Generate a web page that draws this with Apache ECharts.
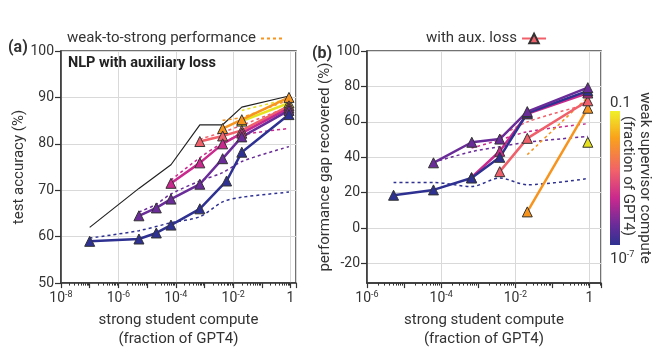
<!DOCTYPE html>
<html>
<head>
<meta charset="utf-8">
<script src="https://cdn.jsdelivr.net/npm/echarts@6/dist/echarts.min.js"></script>
<style>
html, body { margin: 0; padding: 0; background: #fff; }
#chart { width: 664px; height: 354px; }
</style>
</head>
<body>
<div id="chart"></div>
<script>
// (a) test accuracy (%) vs strong student compute, one line per weak supervisor
const accNavy = [[1e-7, 59], [5.2e-6, 59.5], [2.1e-5, 60.8], [6.8e-5, 62.5], [6.9e-4, 66], [5.9e-3, 72], [2.0e-2, 78.2], [0.88, 86.3]]
const accPurple = [[5.2e-6, 64.5], [2.1e-5, 66.2], [6.8e-5, 68.1], [6.9e-4, 71.3], [4.3e-3, 76.8], [2.0e-2, 81.5], [0.88, 87.2]]
const accMagenta = [[6.8e-5, 71.5], [6.9e-4, 75.9], [4.3e-3, 80], [2.0e-2, 82.3], [0.88, 87.7]]
const accSalmon = [[6.9e-4, 80.5], [4.3e-3, 81.7], [2.0e-2, 82.9], [0.88, 88.2]]
const accOrange = [[4.3e-3, 83.3], [2.0e-2, 85.2], [0.88, 90]]
const accYellow = [[2.0e-2, 84.9], [0.88, 88.8]]
const accCeiling = [[1e-7, 62], [5.2e-6, 70.4], [6.8e-5, 75.5], [6.9e-4, 84.1], [4.3e-3, 84.1], [2.0e-2, 87.9], [0.88, 90.3]]

// (a) weak-to-strong performance without aux loss (dashed)
const w2sNavy = [[1e-7, 59.7], [5.2e-6, 61.3], [6.8e-5, 63], [6.9e-4, 64.3], [4.3e-3, 67.5], [2.0e-2, 68.5], [0.88, 69.6]]
const w2sPurple = [[5.2e-6, 65.3], [2.1e-5, 67], [6.8e-5, 69.2], [6.9e-4, 72], [4.3e-3, 73.8], [2.0e-2, 76.2], [0.88, 79.4]]
const w2sMagenta = [[6.8e-5, 72.2], [6.9e-4, 77], [4.3e-3, 80.2], [2.0e-2, 81.9], [0.88, 83.3]]
const w2sSalmon = [[6.9e-4, 81], [4.3e-3, 82.5], [2.0e-2, 84], [0.88, 88]]
const w2sOrange = [[4.3e-3, 85.1], [2.0e-2, 85.7], [0.88, 89.5]]
const w2sYellow = [[2.0e-2, 87.2], [0.88, 89.7]]

// (b) performance gap recovered (%)
const pgrNavy = [[5.2e-6, 18.6], [6.2e-5, 21.6], [6.6e-4, 28.3], [3.8e-3, 40], [2.1e-2, 65], [0.9, 77.5]]
const pgrPurple = [[6.2e-5, 36.9], [6.7e-4, 48.5], [3.8e-3, 50.3], [2.1e-2, 65.8], [0.9, 79.3]]
const pgrMagenta = [[6.6e-4, 28.6], [3.8e-3, 43.4], [2.1e-2, 64.5], [0.9, 76.3]]
const pgrSalmon = [[3.8e-3, 31.9], [2.1e-2, 50.7], [0.9, 71.9]]
const pgrOrange = [[2.1e-2, 9.2], [0.9, 67.7]]
const pgrYellow = [[0.9, 48.5]]

const pgrW2sNavy = [[5.2e-6, 25.8], [6.2e-5, 25.8], [6.6e-4, 23.5], [3.8e-3, 28.3], [2.1e-2, 24.5], [0.9, 28]]
const pgrW2sPurple = [[6.2e-5, 37.2], [6.7e-4, 43.2], [3.8e-3, 46], [2.1e-2, 48.5], [0.9, 51.8]]
const pgrW2sMagenta = [[6.6e-4, 45.2], [3.8e-3, 49.8], [2.1e-2, 54.4], [0.9, 59]]
const pgrW2sSalmon = [[3.8e-3, 51.7], [2.1e-2, 60], [0.9, 70]]
const pgrW2sOrange = [[2.1e-2, 41.5], [0.9, 74]]

// axis ticks
const accTicks = [50, 60, 70, 80, 90, 100]
const pgrTicks = [-20, 0, 20, 40, 60, 80, 100]

const C = {
  navy: '#2e3191',
  purple: '#6a2c99',
  magenta: '#c9298d',
  salmon: '#f0606b',
  orange: '#f7941e',
  yellow: '#e6e21e',
  text: '#333'
}
const FONT = 'Roboto'

// only whole, even decades get a label
function powLabel (v) {
  const e = Math.log10(v)
  const r = Math.round(e)
  if (Math.abs(e - r) > 1e-6 || r % 2 !== 0) return ''
  return r === 0 ? '{b|1}' : '{b|10}{s|' + r + '}'
}

const labelRich = {
  b: { fontSize: 14, color: C.text, fontFamily: FONT, lineHeight: 16 },
  s: { fontSize: 9, color: C.text, fontFamily: FONT, lineHeight: 16, verticalAlign: 'top', padding: [0, 0, 7, 0] }
}

const gridA = { left: 61, top: 51, width: 235, height: 237 }
const gridB = { left: 367, top: 51, width: 234, height: 237 }
const xMaxA = Math.pow(10, 0.19)
const xMaxB = Math.pow(10, 0.31)

function mainX (gridIndex, min, max) {
  return {
    type: 'log',
    logBase: 10,
    gridIndex,
    min,
    max,
    interval: 1,
    position: 'bottom',
    name: 'strong student compute\n(fraction of GPT4)',
    nameLocation: 'middle',
    nameGap: 22,
    nameTextStyle: { fontSize: 15, lineHeight: 19, color: C.text, fontFamily: FONT },
    axisLine: { onZero: false, lineStyle: { color: '#333', width: 1.5 } },
    axisTick: { show: true, length: 5, lineStyle: { color: '#333', width: 1.2 } },
    minorTick: { show: true, splitNumber: 9, length: 2.5, lineStyle: { color: '#333', width: 1 } },
    axisLabel: { formatter: powLabel, rich: labelRich, margin: 7 },
    splitLine: { show: false }
  }
}

// second x axis on the same grid, only for the vertical grid lines every two decades
function gridLineX (gridIndex, min, max) {
  return {
    type: 'log',
    logBase: 10,
    gridIndex,
    min,
    max,
    interval: 2,
    position: 'top',
    axisLine: { show: false, onZero: false },
    axisTick: { show: false },
    axisLabel: { show: false },
    splitLine: { show: true, lineStyle: { color: '#d9d9d9', width: 1 } }
  }
}

function mainY (gridIndex, min, name, ticks, gap) {
  return {
    type: 'value',
    gridIndex,
    min,
    max: 100,
    name,
    nameLocation: 'middle',
    nameGap: gap,
    nameTextStyle: { fontSize: 15, color: C.text, fontFamily: FONT },
    axisLine: { show: true, lineStyle: { color: '#333', width: 1.5 } },
    axisTick: { show: true, length: 6, customValues: ticks, lineStyle: { color: '#333', width: 1.2 } },
    axisLabel: { customValues: ticks, fontSize: 14, color: C.text, fontFamily: FONT, margin: 7 },
    splitLine: { show: true, lineStyle: { color: '#d9d9d9', width: 1 } }
  }
}

function solid (name, data, color, idx) {
  return {
    name,
    type: 'line',
    xAxisIndex: idx,
    yAxisIndex: idx,
    data,
    symbol: 'triangle',
    symbolSize: 10,
    lineStyle: { color, width: 2.5 },
    itemStyle: { color, borderColor: '#333', borderWidth: 1 },
    z: 4,
    animation: false
  }
}

function dashed (name, data, color, idx) {
  return {
    name,
    type: 'line',
    xAxisIndex: idx,
    yAxisIndex: idx,
    data,
    symbol: 'none',
    smooth: 0.3,
    lineStyle: { color, width: 1.5, type: [3, 3] },
    itemStyle: { color },
    z: 3,
    animation: false
  }
}

const series = [
  dashed('w2s-navy', w2sNavy, C.navy, 0),
  dashed('w2s-purple', w2sPurple, C.purple, 0),
  dashed('w2s-magenta', w2sMagenta, C.magenta, 0),
  dashed('w2s-salmon', w2sSalmon, C.salmon, 0),
  dashed('weak-to-strong performance', w2sOrange, C.orange, 0),
  dashed('w2s-yellow', w2sYellow, C.yellow, 0),
  {
    name: 'ceiling',
    type: 'line',
    xAxisIndex: 0,
    yAxisIndex: 0,
    data: accCeiling,
    symbol: 'none',
    lineStyle: { color: '#222', width: 1.2 },
    z: 2,
    animation: false
  },
  solid('acc-yellow', accYellow, C.yellow, 0),
  solid('acc-orange', accOrange, C.orange, 0),
  solid('with aux. loss', accSalmon, C.salmon, 0),
  solid('acc-magenta', accMagenta, C.magenta, 0),
  solid('acc-purple', accPurple, C.purple, 0),
  solid('acc-navy', accNavy, C.navy, 0),

  dashed('pgr-w2s-navy', pgrW2sNavy, C.navy, 1),
  dashed('pgr-w2s-purple', pgrW2sPurple, C.purple, 1),
  dashed('pgr-w2s-magenta', pgrW2sMagenta, C.magenta, 1),
  dashed('pgr-w2s-salmon', pgrW2sSalmon, C.salmon, 1),
  dashed('pgr-w2s-orange', pgrW2sOrange, C.orange, 1),
  solid('pgr-yellow', pgrYellow, C.yellow, 1),
  solid('pgr-orange', pgrOrange, C.orange, 1),
  solid('pgr-salmon', pgrSalmon, C.salmon, 1),
  solid('pgr-magenta', pgrMagenta, C.magenta, 1),
  solid('pgr-navy', pgrNavy, C.navy, 1),
  solid('pgr-purple', pgrPurple, C.purple, 1),

  // empty series bound to the grid-line axes
  { name: 'gridA', type: 'line', xAxisIndex: 2, yAxisIndex: 0, data: [], silent: true },
  { name: 'gridB', type: 'line', xAxisIndex: 3, yAxisIndex: 1, data: [], silent: true }
]

const legendText = { fontSize: 15, color: C.text, fontFamily: FONT }

const option = {
  backgroundColor: '#fff',
  animation: false,
  textStyle: { fontFamily: FONT },
  legend: [
    { data: ['weak-to-strong performance'], left: 62, top: 26, align: 'right', itemWidth: 22, itemHeight: 11, selectedMode: false, itemStyle: { opacity: 0 }, textStyle: legendText },
    { data: ['with aux. loss'], left: 421, top: 26, align: 'right', itemWidth: 24, itemHeight: 12, selectedMode: false, textStyle: legendText }
  ],
  grid: [
    Object.assign({ show: true, borderColor: '#444', borderWidth: 1.5, containLabel: false }, gridA),
    Object.assign({ show: true, borderColor: '#444', borderWidth: 1.5, containLabel: false }, gridB)
  ],
  xAxis: [
    mainX(0, 1e-8, xMaxA),
    mainX(1, 1e-6, xMaxB),
    gridLineX(0, 1e-8, xMaxA),
    gridLineX(1, 1e-6, xMaxB)
  ],
  yAxis: [
    mainY(0, 50, 'test accuracy (%)', accTicks, 24),
    mainY(1, -31, 'performance gap recovered (%)', pgrTicks, 28)
  ],
  graphic: [
    { type: 'text', left: 8, top: 40, style: { text: '(a)', fontSize: 16, fontWeight: 'bold', fill: C.text, fontFamily: FONT } },
    { type: 'text', left: 312, top: 46, style: { text: '(b)', fontSize: 16, fontWeight: 'bold', fill: C.text, fontFamily: FONT } },
    { type: 'text', left: 68, top: 56, style: { text: 'NLP with auxiliary loss', fontSize: 14.5, fontWeight: 'bold', fill: '#222', fontFamily: FONT } },
    {
      type: 'rect',
      shape: { x: 610, y: 111, width: 10, height: 134 },
      style: {
        fill: new echarts.graphic.LinearGradient(0, 0, 0, 1, [
          { offset: 0, color: '#f0f02a' },
          { offset: 0.2, color: '#f9a21c' },
          { offset: 0.45, color: '#f0606b' },
          { offset: 0.65, color: '#c9298d' },
          { offset: 0.85, color: '#6a2c99' },
          { offset: 1, color: '#2e3191' }
        ])
      }
    },
    { type: 'text', x: 610, y: 96, style: { text: '0.1', fontSize: 15, fill: C.text, fontFamily: FONT } },
    {
      type: 'text',
      x: 610,
      y: 250,
      style: {
        text: '{b|10}{s|-7}',
        rich: {
          b: { fontSize: 15, fill: C.text, fontFamily: FONT, lineHeight: 18 },
          s: { fontSize: 9, fill: C.text, fontFamily: FONT, lineHeight: 18, verticalAlign: 'top', padding: [0, 0, 8, 0] }
        }
      }
    },
    { type: 'text', x: 645, y: 178, rotation: -Math.PI / 2, style: { text: 'weak supervisor compute', fontSize: 15, fill: C.text, fontFamily: FONT, align: 'center', verticalAlign: 'middle' } },
    { type: 'text', x: 628, y: 176, rotation: -Math.PI / 2, style: { text: '(fraction of GPT4)', fontSize: 15, fill: C.text, fontFamily: FONT, align: 'center', verticalAlign: 'middle' } }
  ],
  series
}

const myChart = echarts.init(document.getElementById('chart'))
myChart.setOption(option)
</script>
</body>
</html>
